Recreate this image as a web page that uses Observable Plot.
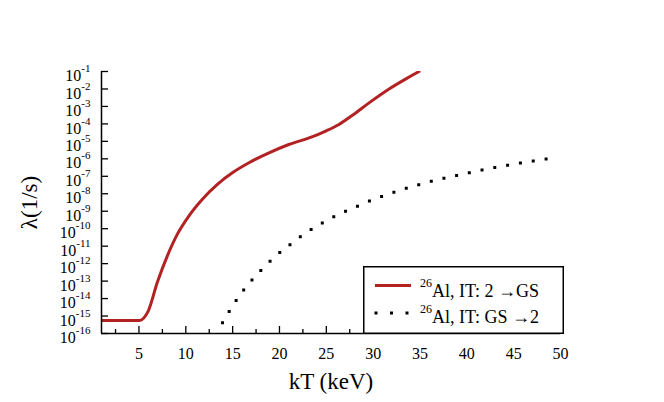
<!DOCTYPE html>
<html>
<head>
<meta charset="utf-8">
<script src="https://cdn.jsdelivr.net/npm/d3@7"></script>
<script src="https://cdn.jsdelivr.net/npm/@observablehq/plot@0.6"></script>
<style>
  html, body { margin: 0; padding: 0; background: white; }
  #wrap { position: relative; width: 664px; height: 402px; font-family: "Liberation Serif", "Times New Roman", serif; }
  #chart svg text, #chart svg tspan { font-family: "Liberation Serif", "Times New Roman", serif !important; font-variant: normal !important; }
  #legend { position: absolute; left: 363px; top: 266px; }
  #legend text { font-family: "Liberation Serif", "Times New Roman", serif; fill: black; }
</style>
</head>
<body>
<div id="wrap">
  <div id="chart"></div>
  <svg id="legend" width="202" height="68">
    <rect x="0.75" y="0.75" width="199.5" height="66.5" fill="white" stroke="black" stroke-width="1.5"></rect>
    <line x1="12" x2="48" y1="19.5" y2="19.5" stroke="#b22222" stroke-width="3"></line>
    <line x1="13" x2="45" y1="47" y2="47" stroke="black" stroke-width="3" stroke-dasharray="0,15.5" stroke-linecap="square"></line>
    <text x="57" y="30.7" font-size="18"><tspan font-size="12" dy="-10">26</tspan><tspan dy="10">Al, IT: 2 →GS</tspan></text>
    <text x="57" y="57" font-size="18"><tspan font-size="12" dy="-10">26</tspan><tspan dy="10">Al, IT: GS →2</tspan></text>
  </svg>
</div>
<script>
// Red: 26Al, IT: 2 -> GS
const redKT = [1, 2, 3, 4, 5, 6.0, 6.96, 8.03, 9.1, 10.34, 11.77, 13.37, 14.97, 16.74, 18.88, 21.0, 23.16, 24.94, 26.35, 27.78, 29.56, 31.7, 33.5, 34.9];
const redLambda = [5.5e-16, 5.5e-16, 5.5e-16, 5.5e-16, 5.5e-16, 2.0e-15, 8.5e-14, 2.8e-12, 4.9e-11, 5.5e-10, 4.9e-9, 3.5e-8, 1.6e-7, 6.0e-7, 2.2e-6, 6.6e-6, 1.6e-5, 3.9e-5, 9.3e-5, 3.1e-4, 1.6e-3, 1.0e-2, 3.8e-2, 1.0e-1];

// Dotted: 26Al, IT: GS -> 2
const dotKT = [13.3, 14.1, 14.9, 15.6, 16.5, 17.4, 18.4, 19.4, 20.5, 21.6, 22.7, 23.9, 25.1, 26.4, 27.7, 29.0, 30.3, 31.6, 32.9, 34.3, 35.6, 37.0, 38.3, 39.7, 41.1, 42.5, 43.9, 45.2, 46.6, 48.0, 49.6];
const dotLambda = [8.9e-17, 6.3e-16, 3.0e-15, 1.2e-14, 5.0e-14, 1.9e-13, 6.6e-13, 2.2e-12, 6.8e-12, 1.9e-11, 5.4e-11, 1.3e-10, 3.1e-10, 6.8e-10, 1.4e-9, 2.8e-9, 5.4e-9, 9.3e-9, 1.6e-8, 2.7e-8, 4.3e-8, 6.5e-8, 9.5e-8, 1.4e-7, 2.0e-7, 2.9e-7, 3.9e-7, 5.1e-7, 6.9e-7, 8.9e-7, 1.2e-6];

// Ticks
const xMajorTicks = [5, 10, 15, 20, 25, 30, 35, 40, 45, 50];
const xMinorTicks = [2.5, 7.5, 12.5, 17.5, 22.5, 27.5, 32.5, 37.5, 42.5, 47.5];
const yExponents = [-1, -2, -3, -4, -5, -6, -7, -8, -9, -10, -11, -12, -13, -14, -15, -16];
const yTicks = yExponents.map(e => Math.pow(10, e));

const xLabel = "kT (keV)";
const yLabel = "λ(1/s)";

const red = redKT.map((k, i) => ({k, v: redLambda[i]}));
const dots = dotKT.map((k, i) => ({k, v: dotLambda[i]}));

const serif = "'Liberation Serif', 'Times New Roman', serif";

const chart = Plot.plot({
  width: 664,
  height: 402,
  marginLeft: 101,
  marginRight: 104,
  marginTop: 71,
  marginBottom: 69,
  x: {domain: [1, 50]},
  y: {type: "log", domain: [1e-16, 1e-1]},
  style: {fontFamily: serif, background: "white", color: "black"},
  marks: [
    Plot.line(dots, {x: "k", y: "v", stroke: "black", strokeWidth: 3, strokeDasharray: "0,13", strokeLinecap: "square", curve: "monotone-x", clip: true}),
    Plot.line(red, {x: "k", y: "v", stroke: "#b22222", strokeWidth: 3, curve: "monotone-x", clip: true}),
    Plot.axisX({ticks: xMinorTicks, tickSize: -4, tickFormat: () => "", label: null, strokeWidth: 1.3}),
    Plot.axisX({ticks: xMajorTicks, tickSize: -7, tickFormat: () => "", label: null, strokeWidth: 1.3}),
    Plot.axisX({ticks: xMajorTicks, tickSize: 0, tickPadding: 14, fontSize: 16, fontFamily: serif, label: null}),
    Plot.axisY({ticks: yTicks, tickSize: -7, tickFormat: () => "", label: null, strokeWidth: 1.3}),
    Plot.axisY({ticks: yTicks, tickSize: 0, tickPadding: 11, fontSize: 16, fontFamily: serif, dy: 4.5, label: null,
      tickFormat: d => "10^" + Math.round(Math.log10(d))}),
    Plot.ruleX([1], {strokeWidth: 1.5}),
    Plot.ruleY([1e-16], {strokeWidth: 1.5}),
    Plot.text([xLabel], {frameAnchor: "bottom", dy: 55, fontSize: 23, fontFamily: serif}),
    Plot.text([yLabel], {frameAnchor: "left", textAnchor: "middle", dx: -72, rotate: -90, fontSize: 23, fontFamily: serif})
  ]
});

// Render y tick labels as 10 with a superscript exponent
const ns = "http://www.w3.org/2000/svg";
chart.querySelectorAll("text").forEach(t => {
  t.setAttribute("font-family", "Liberation Serif");
  const s = t.textContent;
  if (!/^10\^/.test(s)) return;
  const [base, exp] = s.split("^");
  t.textContent = "";
  const t1 = document.createElementNS(ns, "tspan");
  t1.textContent = base;
  const t2 = document.createElementNS(ns, "tspan");
  t2.setAttribute("font-size", "11");
  t2.setAttribute("dy", "-9");
  t2.textContent = exp;
  t.append(t1, t2);
});

document.getElementById("chart").append(chart);
</script>
</body>
</html>
